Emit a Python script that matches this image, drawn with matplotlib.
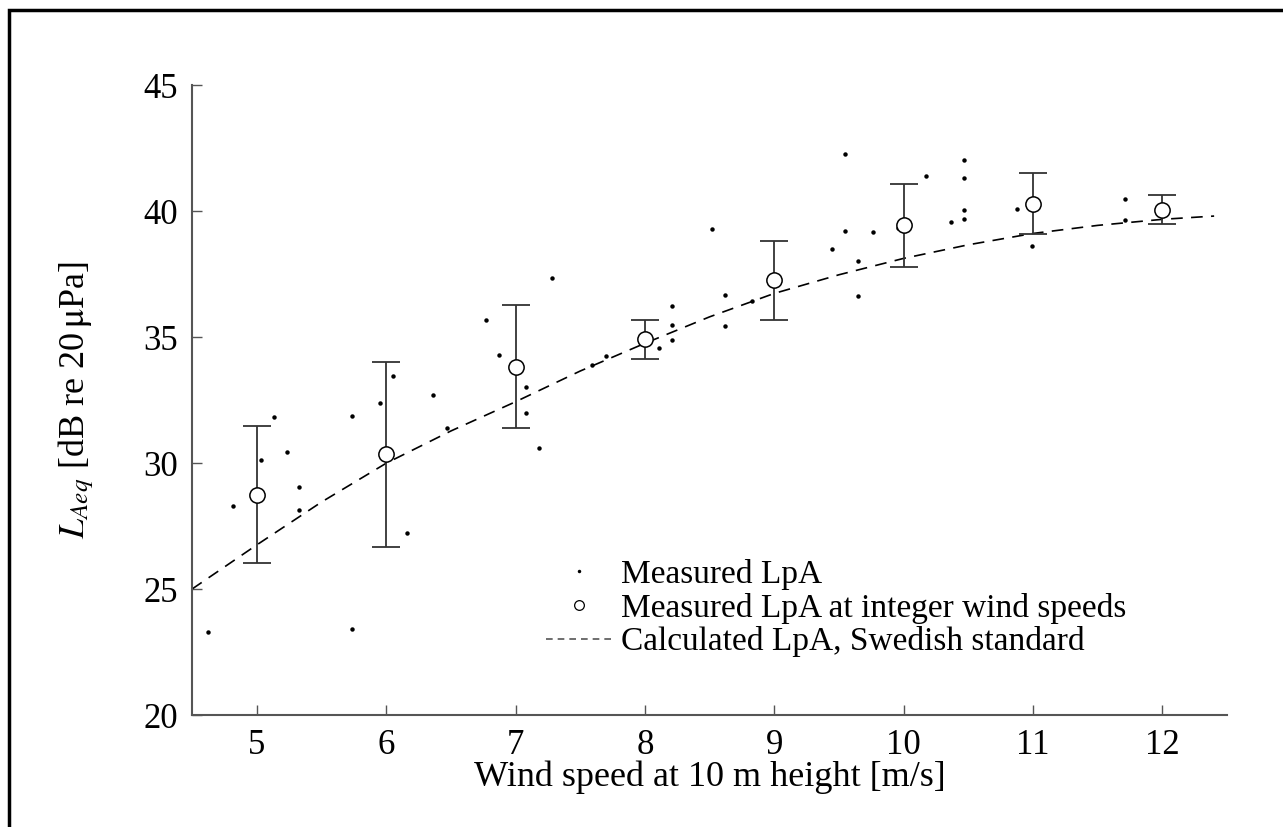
import numpy as np
import matplotlib
matplotlib.use("Agg")
import matplotlib.pyplot as plt
from matplotlib.lines import Line2D
from matplotlib.patches import Rectangle

plt.rcParams['font.family'] = ['Liberation Serif', 'DejaVu Serif']
plt.rcParams['mathtext.fontset'] = 'stix'

# measured LpA, single points
ws_meas = [4.62, 4.82, 5.03, 5.13, 5.23, 5.33, 5.33, 5.74, 5.74, 5.95, 6.05, 6.16,
           6.36, 6.47, 6.77, 6.87, 7.08, 7.08, 7.18, 7.28,
           7.59, 7.70, 8.01, 8.11, 8.21, 8.21, 8.21, 8.52, 8.62, 8.62, 8.83,
           9.45, 9.55, 9.55, 9.65, 9.65, 9.76, 9.96, 10.17, 10.37,
           10.47, 10.47, 10.47, 10.47, 10.88, 10.99, 11.71, 11.71]
lpa_meas = [23.31, 28.31, 30.11, 31.84, 30.45, 29.05, 28.12, 31.87, 23.41, 32.38, 33.47, 27.21,
            32.71, 31.40, 35.69, 34.29, 33.03, 31.98, 30.61, 37.33,
            33.90, 34.25, 34.97, 34.58, 36.22, 35.46, 34.88, 39.29, 36.67, 35.42, 36.43,
            38.48, 42.28, 39.22, 38.00, 36.61, 39.15, 39.31, 41.39, 39.55,
            42.04, 41.31, 40.04, 39.70, 40.08, 38.61, 40.46, 39.63]

# means at integer wind speeds with min/max range
ws_int = [5, 6, 7, 8, 9, 10, 11, 12]
lpa_mean = [28.75, 30.36, 33.82, 34.91, 37.25, 39.44, 40.29, 40.05]
lpa_hi = [31.47, 34.01, 36.28, 35.66, 38.82, 41.08, 41.50, 40.63]
lpa_lo = [26.02, 26.68, 31.37, 34.13, 35.67, 37.77, 39.09, 39.50]

# calculated LpA, Swedish standard
ws_calc = [4.5, 5.0, 5.5, 6.0, 6.5, 7.0, 7.5, 8.0, 8.5, 9.0, 9.5, 10.0, 10.5, 11.0, 11.5, 12.0, 12.4]
lpa_calc = [25.0, 26.75, 28.45, 29.99, 31.27, 32.43, 33.65, 34.75, 35.8, 36.73, 37.47, 38.12,
            38.66, 39.11, 39.43, 39.67, 39.8]

fig = plt.figure(figsize=(12.83, 8.27), dpi=100)
ax = fig.add_axes([0.1497, 0.1354, 0.8067, 0.7618])

grey = '#555555'
ax.plot(ws_calc, lpa_calc, color='black', lw=1.2, dashes=(7, 5))
ax.plot(ws_meas, lpa_meas, 'o', color='black', ms=3.2, mew=0)
err = [np.array(lpa_mean) - np.array(lpa_lo), np.array(lpa_hi) - np.array(lpa_mean)]
ax.errorbar(ws_int, lpa_mean, yerr=err, fmt='none', ecolor='#333333', elinewidth=1.3,
            capsize=10, capthick=1.3)
ax.plot(ws_int, lpa_mean, 'o', ms=11, mfc='white', mec='black', mew=1.1)

ax.set_xlim(4.5, 12.5)
ax.set_ylim(20, 45)
ax.set_xticks(range(5, 13))
ax.set_yticks(range(20, 46, 5))
ax.tick_params(direction='in', length=7, width=1, color=grey, labelsize=25)
ax.tick_params(axis='x', pad=10)
ax.tick_params(axis='y', pad=10)
for s in ['top', 'right']:
    ax.spines[s].set_visible(False)
for s in ['left', 'bottom']:
    ax.spines[s].set_color(grey)
    ax.spines[s].set_linewidth(1.5)

ax.set_xlabel('Wind speed at 10 m height [m/s]', fontsize=26, labelpad=-1)
ax.set_ylabel(r'$L_{Aeq}$ [dB re 20$\,\mathrm{\mu}$Pa]', fontsize=26, labelpad=34)

handles = [Line2D([], [], ls='none', marker='o', ms=2.5, color='black', mew=0),
           Line2D([], [], ls='none', marker='o', ms=7, mfc='white', mec='black', mew=0.9),
           Line2D([], [], color='#555555', lw=1.2, dashes=(4, 3))]
labels = ['Measured LpA', 'Measured LpA at integer wind speeds', 'Calculated LpA, Swedish standard']
ax.legend(handles, labels, loc='upper left', bbox_to_anchor=(0.326, 0.274), frameon=False,
          fontsize=24, handlelength=2.0, handletextpad=0.25, labelspacing=0.08, borderpad=0)

fig.patches.append(Rectangle((9 / 1283, -0.1), 1.2, 1 - 10 / 827 + 0.1, transform=fig.transFigure,
                             fill=False, edgecolor='black', lw=2.5))

fig.savefig('out.png', dpi=100)
